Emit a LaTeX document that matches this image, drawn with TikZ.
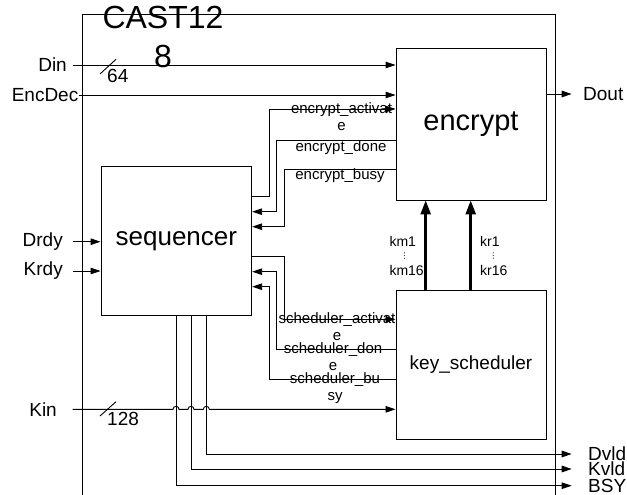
\documentclass[tikz,border=0pt]{standalone}
\usepackage{fontspec}
\setmainfont{Liberation Sans}
\newfontfamily\dejavu{DejaVu Sans}
\usetikzlibrary{arrows.meta}
\begin{document}
\begin{tikzpicture}[x=1pt,y=-1pt,
  wire/.style={line width=0.9pt,draw=black},
  arr/.style={wire,-{Triangle[length=10pt,width=6.5pt]}},
  bus/.style={line width=2.6pt,draw=black,-{Triangle[length=14pt,width=10pt]}},
  blk/.style={draw=black,line width=0.9pt,inner sep=0pt},
  port/.style={inner sep=0pt,font=\fontsize{19}{22}\selectfont},
  sig/.style={inner sep=0pt,align=center,font=\fontsize{15}{17}\selectfont},
  bw/.style={inner sep=0pt,font=\fontsize{14}{14}\selectfont}]
\useasboundingbox (0,0) rectangle (627,495);
% outer frame
\draw[wire] (82.7,495) -- (82.7,14) -- (555,14) -- (555,495);
\node[inner sep=0pt,align=center,anchor=base,font=\fontsize{32}{39}\selectfont] (title) at (163,67) {CAST12\\8};
% blocks
\node[blk,minimum width=150.7pt,minimum height=149pt,font=\fontsize{26}{30}\selectfont] (seq) at (176.35,241.2) {sequencer};
\node[blk,minimum width=150pt,minimum height=152pt,font=\fontsize{29}{32}\selectfont] (enc) at (471,124) {encrypt};
\node[blk,minimum width=150pt,minimum height=149.3pt,font=\fontsize{19}{22}\selectfont] (ks) at (471,364.65) {key\_scheduler};
% ports
\node[port,anchor=east] (din) at (67,65) {Din};
\node[port,anchor=east] (encdec) at (78.5,95) {EncDec};
\node[port,anchor=east] (drdy) at (63,241.7) {Drdy};
\node[port,anchor=east] (krdy) at (63,271) {Krdy};
\node[port,anchor=east] (kin) at (57,409.3) {Kin};
\node[port,anchor=west] (dout) at (583,94) {Dout};
\node[port,anchor=west] (dvld) at (588,454) {Dvld};
\node[port,anchor=west] (kvld) at (588,469) {Kvld};
\node[port,anchor=west] (bsy) at (588,485.7) {BSY};
% inputs
\draw[arr] ([xshift=5.7pt]din.east) -- (enc.west |- din.east);
\draw[wire] (100,74) -- (116,59.3);
\node[port,anchor=base west] (w64) at (107,82) {64};
\draw[arr] (encdec.east) -- (enc.west |- encdec.east);
\draw[arr] ([xshift=9.7pt]drdy.east) -- (seq.west |- drdy.east);
\draw[arr] ([xshift=9.7pt]krdy.east) -- (seq.west |- krdy.east);
\draw[arr] ([xshift=15.7pt]kin.east) -- (173,409.3) arc[start angle=180,end angle=0,radius=3pt]
  -- (188,409.3) arc[start angle=180,end angle=0,radius=3pt]
  -- (203.3,409.3) arc[start angle=180,end angle=0,radius=3pt]
  -- (ks.west |- kin.east);
\draw[wire] (100,416) -- (116,401.7);
\node[port,anchor=base west] (w128) at (107,425) {128};
% encrypt <-> sequencer
\draw[arr] (seq.east |- 0,196.7) -| (269.3,109) -- (enc.west |- 0,109);
\draw[arr] (enc.west |- 0,140.7) -| (276.7,211.7) -- (seq.east |- 0,211.7);
\draw[arr] (enc.west |- 0,169) -| (284.3,226.7) -- (seq.east |- 0,226.7);
\node[sig,anchor=base] (lea) at (341.5,130) {encrypt\_activat\\e};
\node[sig,anchor=base] (led) at (341,151.5) {encrypt\_done};
\node[sig,anchor=base] (leb) at (340,179) {encrypt\_busy};
% key_scheduler <-> sequencer
\draw[arr] (seq.east |- 0,256.7) -| (284,319.3) -- (ks.west |- 0,319.3);
\draw[arr] (ks.west |- 0,349.3) -| (276.7,271.7) -- (seq.east |- 0,271.7);
\draw[arr] (ks.west |- 0,379.3) -| (269.3,286.7) -- (seq.east |- 0,286.7);
\node[sig,anchor=base] (lsa) at (337,340.5) {scheduler\_activat\\e};
\node[sig,anchor=base] (lsd) at (333,370) {scheduler\_don\\e};
\node[sig,anchor=base] (lsb) at (335,400) {scheduler\_bu\\sy};
% round keys
\draw[bus] (ks.north -| 425.7,0) -- (enc.south -| 425.7,0);
\draw[bus] (ks.north -| 470.7,0) -- (enc.south -| 470.7,0);
\node[bw,anchor=base west] (km1) at (389.3,246.7) {km1};
\node[inner sep=0pt,anchor=base,font=\dejavu\fontsize{8}{8}\selectfont] (kmd) at (404.5,258.5) {⋮};
\node[bw,anchor=base west] (km16) at (389.3,275.1) {km16};
\node[bw,anchor=base west] (kr1) at (480,246.7) {kr1};
\node[inner sep=0pt,anchor=base,font=\dejavu\fontsize{8}{8}\selectfont] (krd) at (493.3,258.5) {⋮};
\node[bw,anchor=base west] (kr16) at (480,275.1) {kr16};
% outputs
\draw[arr] (enc.east |- 0,94) -- ([xshift=-11.3pt]dout.west);
\draw[arr] (seq.south -| 206.3,0) |- ([xshift=-16.3pt]dvld.west);
\draw[arr] (seq.south -| 191,0) |- ([xshift=-16.3pt]kvld.west);
\draw[arr] (seq.south -| 176,0) |- ([xshift=-16.3pt]bsy.west);
\end{tikzpicture}
\end{document}
